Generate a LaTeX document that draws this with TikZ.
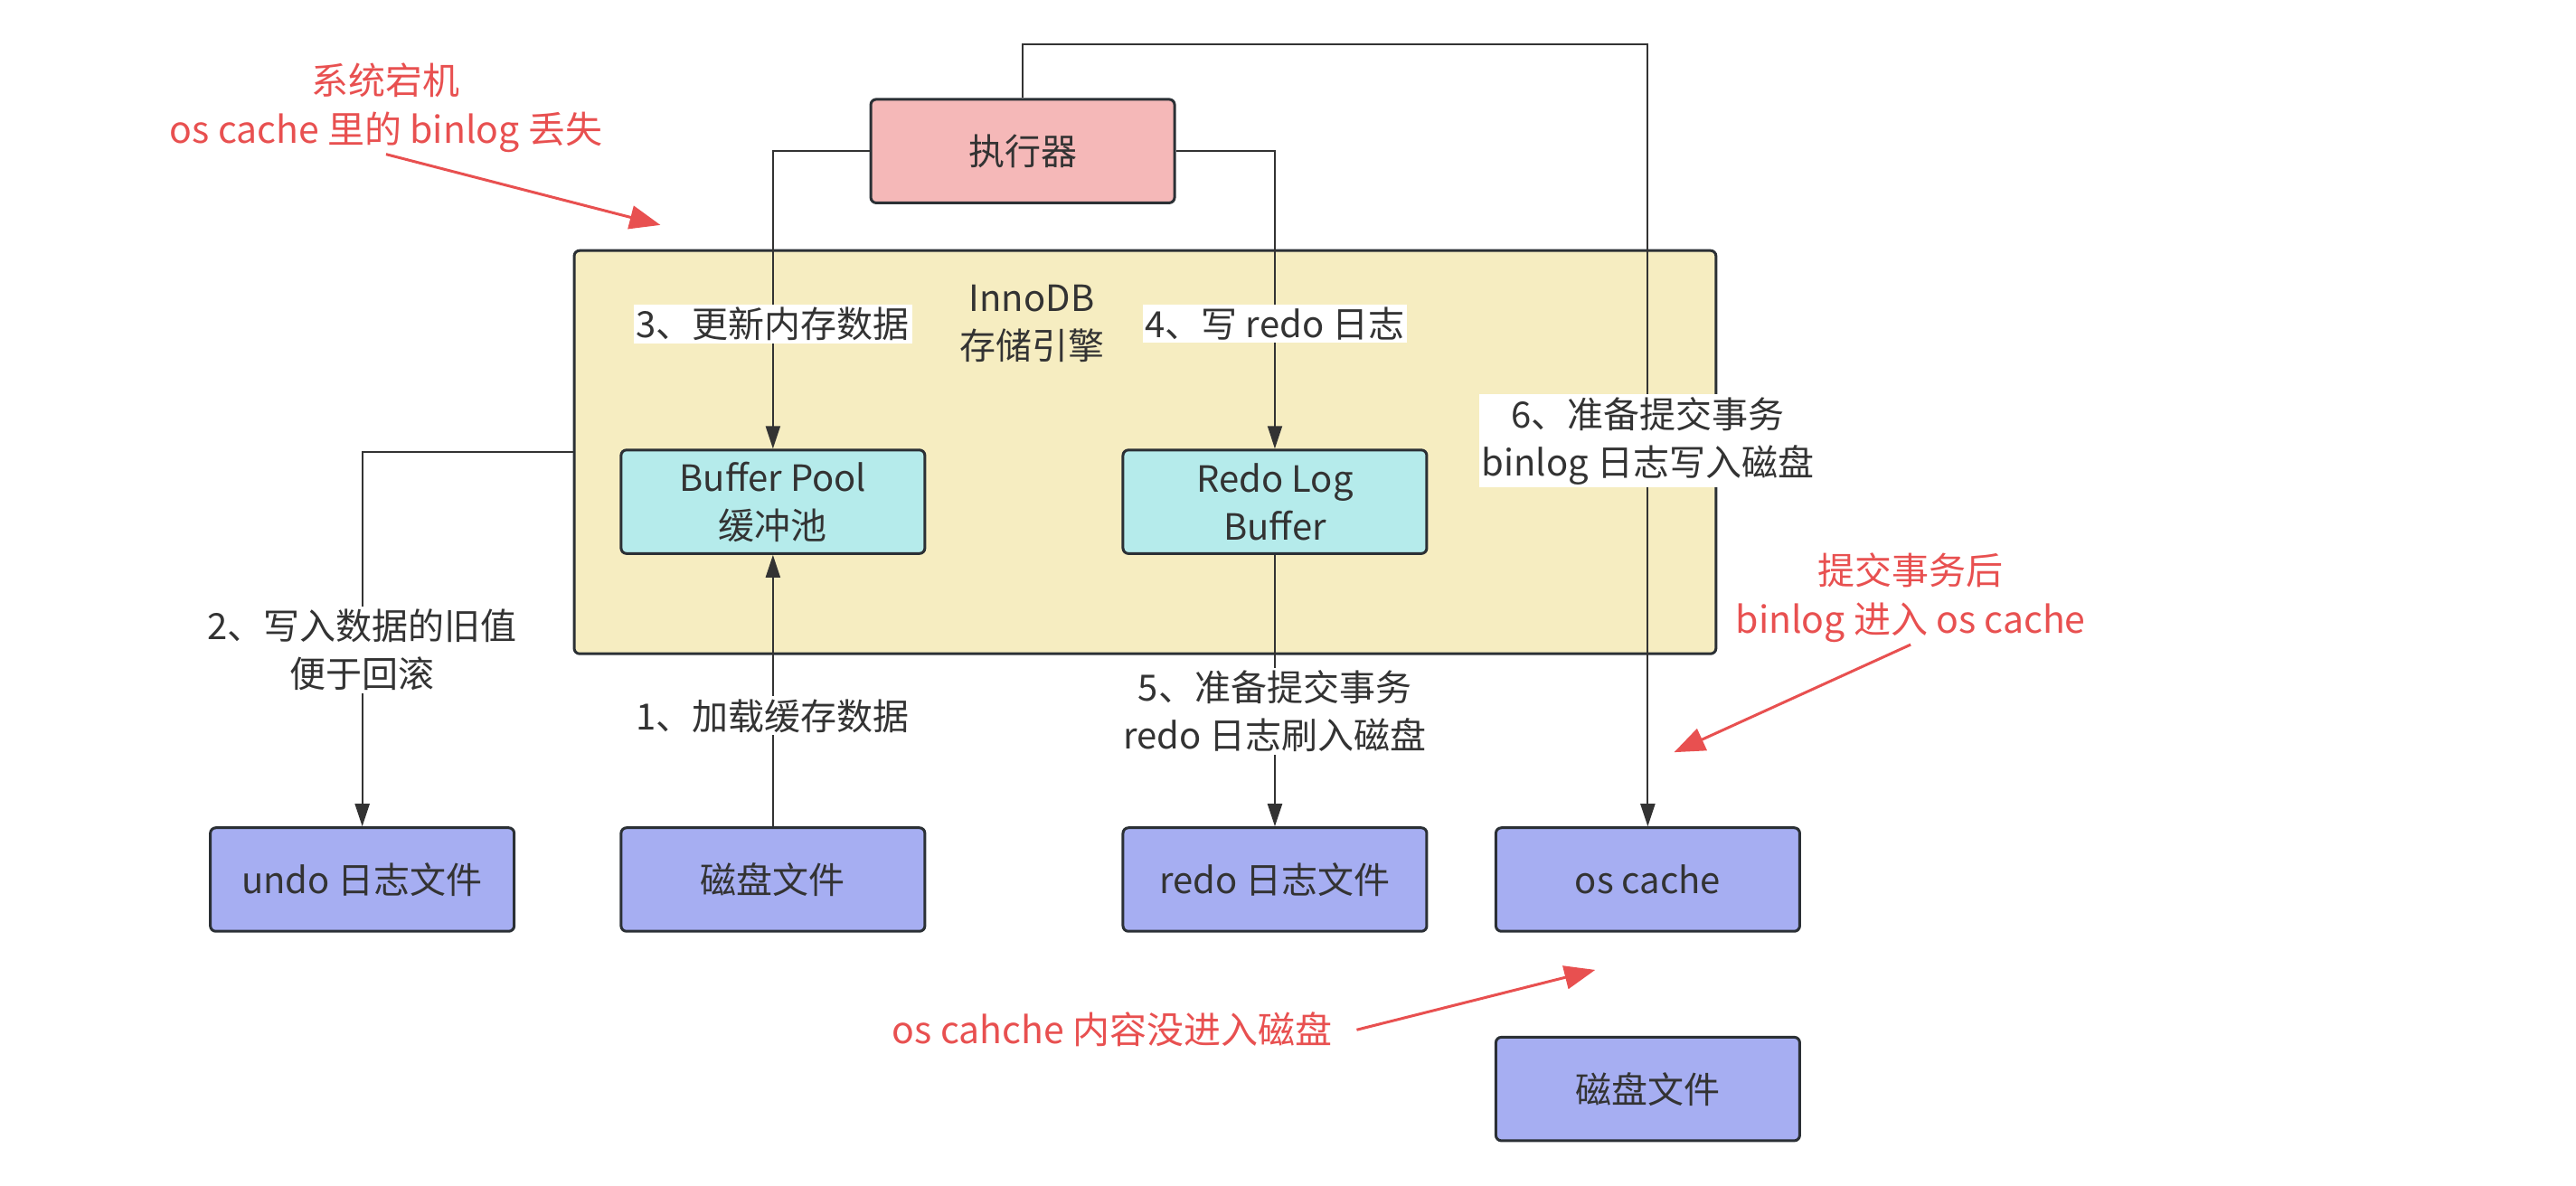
\documentclass[tikz,border=0pt]{standalone}
\usepackage{fontspec}
\setmainfont{Noto Sans CJK SC}
\usetikzlibrary{arrows.meta}
\definecolor{linec}{HTML}{333333}
\definecolor{borderc}{HTML}{2B3035}
\definecolor{txtc}{HTML}{333333}
\definecolor{redc}{HTML}{E85050}
\definecolor{pinkc}{HTML}{F5B8B8}
\definecolor{yellowc}{HTML}{F6EDC1}
\definecolor{cyanc}{HTML}{B5EBEB}
\definecolor{bluec}{HTML}{A6AEF2}
\begin{document}
\begin{tikzpicture}[x=1.817pt,y=-1.817pt,
  font=\fontsize{40}{53}\selectfont, text=txtc,
  box/.style={draw=borderc, line width=3pt, rounded corners=6pt,
    minimum width=336pt, minimum height=114.5pt, align=center, inner sep=0pt},
  conn/.style={draw=linec, line width=2pt, -{Triangle[length=25pt,width=16pt]}},
  lbl/.style={fill=white, inner sep=3pt, align=center},
  redtxt/.style={text=redc, align=center, inner sep=2pt, font=\fontsize{41}{54}\selectfont},
  redarr/.style={draw=redc, line width=3pt, -{Triangle[length=34pt,width=26pt]}}]

\useasboundingbox (0,0) rectangle (1568,722);

% container
\node[draw=borderc, line width=3pt, rounded corners=6pt, fill=yellowc,
  minimum width=1262.8pt, minimum height=446pt, inner sep=0pt] (inno) at (697,275.3) {};
\node[align=center, inner sep=0pt] (innolbl) at (628,197) {InnoDB\\存储引擎};

% boxes
\node[box, fill=pinkc] (exec) at (622.5,92) {执行器};
\node[box, fill=cyanc] (bp) at (470.5,305.5) {Buffer Pool\\缓冲池};
\node[box, fill=cyanc] (rlb) at (776,305.5) {Redo Log\\Buffer};
\node[box, fill=bluec] (undo) at (220.5,535.5) {undo 日志文件};
\node[box, fill=bluec] (disk) at (470.5,535.5) {磁盘文件};
\node[box, fill=bluec] (redo) at (776,535.5) {redo 日志文件};
\node[box, fill=bluec] (osc) at (1003,535.5) {os cache};
\node[box, fill=bluec] (disk2) at (1003,663) {磁盘文件};

% connectors
\draw[conn] (exec.west) -| (bp.north) node[lbl, pos=0.79] {3、更新内存数据};
\draw[conn] (exec.east) -| (rlb.north) node[lbl, pos=0.79] {4、写 redo 日志};
\coordinate (topc) at (1003,27);
\draw[conn] (exec.north) |- (topc) -- (osc.north) node[lbl, pos=0.507] {6、准备提交事务\\binlog 日志写入磁盘};
\draw[conn] (inno.west) -| (undo.north) node[lbl, pos=0.764] {2、写入数据的旧值\\便于回滚};
\draw[conn] (disk.north) -- (bp.south) node[lbl, pos=0.407] {1、加载缓存数据};
\draw[conn] (rlb.south) -- (redo.north) node[lbl, pos=0.575] {5、准备提交事务\\redo 日志刷入磁盘};

% red annotations
\node[redtxt] (ann1) at (235,65.5) {系统宕机\\os cache 里的 binlog 丢失};
\coordinate (tip1) at (402,137);
\draw[redarr] (ann1.south) -- (tip1);

\node[redtxt] (ann2) at (1163,364) {提交事务后\\binlog 进入 os cache};
\coordinate (tip2) at (1019,458);
\draw[redarr] (ann2.south) -- (tip2);

\node[redtxt] (ann3) at (677,627) {os cahche 内容没进入磁盘};
\coordinate (tip3) at (971,590.5);
\draw[redarr] ([xshift=25pt]ann3.east) -- (tip3);
\end{tikzpicture}
\end{document}
